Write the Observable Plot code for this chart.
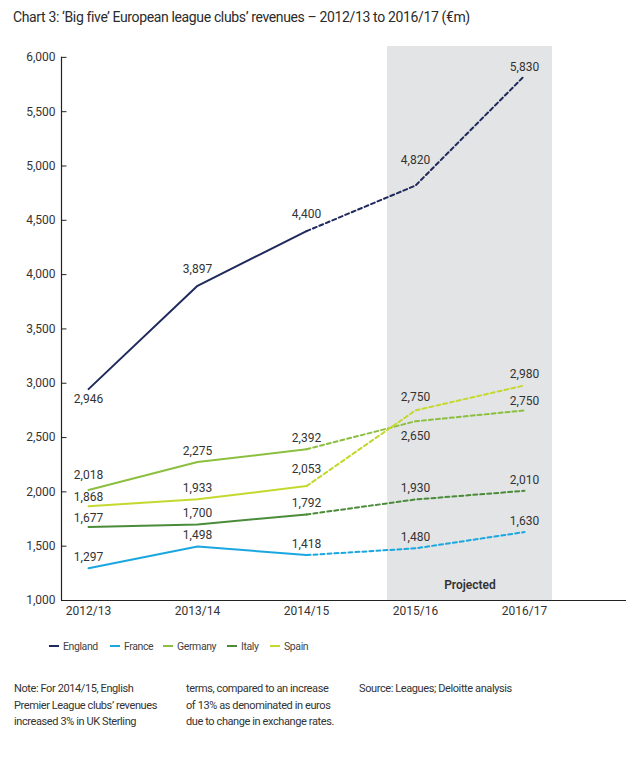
<!DOCTYPE html>
<html>
<head>
<meta charset="utf-8">
<script src="https://cdn.jsdelivr.net/npm/d3@7"></script>
<script src="https://cdn.jsdelivr.net/npm/@observablehq/plot@0.6"></script>
<style>
  body { margin: 0; background: #fff; font-family: Roboto, sans-serif; color: #333; }
  #wrap { position: relative; width: 641px; height: 772px; }
  #title { position: absolute; left: 13px; top: 9px; font-size: 14px; letter-spacing: -0.36px; color: #2b2b2b; white-space: nowrap; }
  #chart { position: absolute; left: 0; top: 40px; }
  #legend { position: absolute; left: 0; top: 639px; width: 641px; height: 18px; font-size: 10.5px; letter-spacing: -0.4px; }
  .li { position: absolute; top: 0; white-space: nowrap; color: #444; line-height: 16px; }
  .li span.sw { display: inline-block; width: 10px; height: 2px; vertical-align: middle; margin-right: 4px; position: relative; top: -1px; }
  .note { position: absolute; top: 681px; font-size: 11px; letter-spacing: -0.4px; line-height: 16.7px; color: #333; white-space: nowrap; }
</style>
</head>
<body>
<div id="wrap">
  <div id="title">Chart 3: ‘Big five’ European league clubs’ revenues – 2012/13 to 2016/17 (€m)</div>
  <div id="chart"></div>
  <div id="legend"></div>
  <div class="note" style="left:14px">Note: For 2014/15, English<br>Premier League clubs’ revenues<br>increased 3% in UK Sterling</div>
  <div class="note" style="left:186px">terms, compared to an increase<br>of 13% as denominated in euros<br>due to change in exchange rates.</div>
  <div class="note" style="left:359px">Source: Leagues; Deloitte analysis</div>
</div>
<script>
const seasons = ["2012/13", "2013/14", "2014/15", "2015/16", "2016/17"];
const countries = ["England", "France", "Germany", "Italy", "Spain"];
const colors = ["#1f2a5c", "#1aa7e0", "#8cbf3f", "#4a8c3a", "#c5d82e"];
const england = [2946, 3897, 4400, 4820, 5830];
const france  = [1297, 1498, 1418, 1480, 1630];
const germany = [2018, 2275, 2392, 2650, 2750];
const italy   = [1677, 1700, 1792, 1930, 2010];
const spain   = [1868, 1933, 2053, 2750, 2980];
const yTicks = [1000, 1500, 2000, 2500, 3000, 3500, 4000, 4500, 5000, 5500, 6000];
const actualCount = 3; // first three seasons actual, rest projected

// label nudges (layout only), default is just above the point
const labelNudge = {
  "England|2012/13": 10, "England|2013/14": -17, "England|2014/15": -17,
  "England|2015/16": -25, "England|2016/17": -9,
  "Germany|2012/13": -15, "Spain|2014/15": -17, "Germany|2015/16": 15,
  "Spain|2015/16": -13, "Germany|2016/17": -9, "Spain|2012/13": -9, "Italy|2012/13": -9
};

const seriesValues = [england, france, germany, italy, spain];
const rows = [];
countries.forEach((c, ci) => {
  seriesValues[ci].forEach((v, i) => rows.push({country: c, i, season: seasons[i], value: v}));
});
const solid = rows.filter(d => d.i < actualCount);
const dashed = rows.filter(d => d.i >= actualCount - 1);
const nudge = d => labelNudge[d.country + "|" + d.season] ?? -11;

const xMin = -0.248, xMax = 4.936;
const fmt = d3.format(",");

const labelMarks = [...new Set(rows.map(nudge))].map(dy =>
  Plot.text(rows.filter(d => nudge(d) === dy), {x: "i", y: "value", text: d => fmt(d.value), dy, fill: "#333", fontSize: 12})
);

const plot = Plot.plot({
  width: 641,
  height: 585,
  marginLeft: 61,
  marginRight: 15,
  marginTop: 6,
  marginBottom: 25,
  style: {fontFamily: "Roboto, sans-serif", fontSize: "12px", color: "#333"},
  x: {domain: [xMin, xMax], label: null},
  y: {domain: [1000, 6100], label: null},
  color: {domain: countries, range: colors},
  marks: [
    Plot.rectY([0], {x1: 3 - 0.257, x2: 4 + 0.257, y1: 1000, y2: 6100, fill: "#e3e4e6"}),
    Plot.text(["Projected"], {x: 3.5, y: 1000, dy: -15, text: d => d, fontSize: 12, fontWeight: 600, fill: "#333"}),
    Plot.line(solid, {x: "i", y: "value", z: "country", stroke: "country", strokeWidth: 2}),
    Plot.line(dashed, {x: "i", y: "value", z: "country", stroke: "country", strokeWidth: 2, strokeDasharray: "4,3"}),
    ...labelMarks,
    Plot.ruleX([xMin], {y1: 1000, y2: 6000, stroke: "#222", strokeWidth: 1.2}),
    Plot.ruleY([1000], {x1: xMin, x2: xMax, stroke: "#222", strokeWidth: 1.2}),
    Plot.ruleY(yTicks, {x1: xMin, x2: xMin + 0.05, stroke: "#222"}),
    Plot.axisY(yTicks, {tickSize: 0, tickPadding: 6, tickFormat: fmt, fill: "#333", fontSize: 12, label: null}),
    Plot.axisX(d3.range(seasons.length), {tickSize: 0, tickPadding: 6, tickFormat: i => seasons[i], fill: "#333", fontSize: 12, label: null})
  ]
});
document.getElementById("chart").appendChild(plot);

const legendPos = [49, 110, 163, 227, 270];
const lg = document.getElementById("legend");
countries.forEach((c, i) => {
  const el = document.createElement("div");
  el.className = "li";
  el.style.left = legendPos[i] + "px";
  el.innerHTML = `<span class="sw" style="background:${colors[i]}"></span>${c}`;
  lg.appendChild(el);
});
</script>
</body>
</html>
